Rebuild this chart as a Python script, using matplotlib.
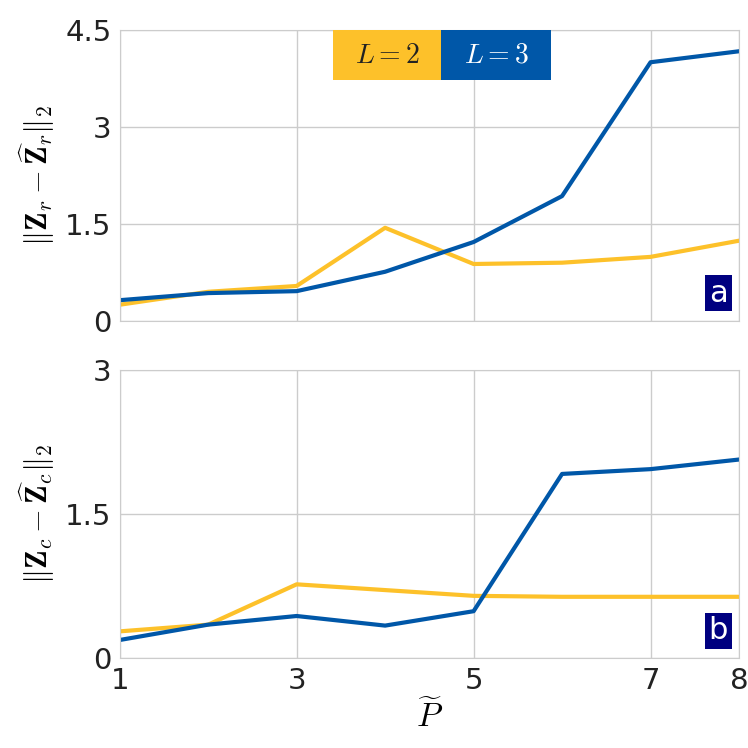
import matplotlib.pyplot as plt
from matplotlib.patches import Rectangle

plt.rcParams["mathtext.fontset"] = "cm"

p = [1, 2, 3, 4, 5, 6, 7, 8]
zr_l2 = [0.25, 0.45, 0.54, 1.44, 0.88, 0.90, 0.99, 1.24]
zr_l3 = [0.32, 0.43, 0.46, 0.76, 1.22, 1.93, 4.00, 4.17]
zc_l2 = [0.28, 0.35, 0.77, 0.71, 0.65, 0.64, 0.64, 0.64]
zc_l3 = [0.19, 0.35, 0.44, 0.34, 0.49, 1.92, 1.97, 2.07]

yellow = "#FDC12A"
blue = "#0057A8"
navy = "#000080"

fig = plt.figure(figsize=(7.48, 7.48), dpi=100)
ax1 = fig.add_axes([0.160, 0.571, 0.828, 0.389])
ax2 = fig.add_axes([0.160, 0.120, 0.828, 0.385])

for ax, y2, y3, ymax, yt, lab, letter in [
    (ax1, zr_l2, zr_l3, 4.5, [0, 1.5, 3, 4.5], r"$\|\mathbf{Z}_r-\widehat{\mathbf{Z}}_r\|_2$", "a"),
    (ax2, zc_l2, zc_l3, 3, [0, 1.5, 3], r"$\|\mathbf{Z}_c-\widehat{\mathbf{Z}}_c\|_2$", "b"),
]:
    ax.plot(p, y2, color=yellow, lw=3)
    ax.plot(p, y3, color=blue, lw=3)
    ax.set_xlim(1, 8)
    ax.set_ylim(0, ymax)
    ax.set_xticks([1, 3, 5, 7, 8])
    ax.set_yticks(yt)
    ax.set_yticklabels(["0" if v == 0 else f"{v:g}" for v in yt])
    ax.grid(True, color="#cccccc", lw=1)
    ax.tick_params(labelsize=21, length=0, colors="#222222", pad=6)
    for s in ax.spines.values():
        s.set_color("#cccccc")
    ax.set_ylabel(lab, fontsize=22, labelpad=6)
    ax.text(0.982, 0.045, letter, transform=ax.transAxes, ha="right", va="bottom",
            fontsize=22, color="white",
            bbox=dict(boxstyle="square,pad=0.12", fc=navy, ec="none"))

ax1.tick_params(labelbottom=False)
ax2.set_xlabel(r"$\widetilde{P}$", fontsize=24)

ax1.add_patch(Rectangle((0.344, 0.828), 0.175, 0.172, transform=ax1.transAxes,
                        fc=yellow, ec="none", zorder=5))
ax1.add_patch(Rectangle((0.519, 0.828), 0.177, 0.172, transform=ax1.transAxes,
                        fc=blue, ec="none", zorder=5))
ax1.text(0.4315, 0.914, r"$L=2$", transform=ax1.transAxes, ha="center", va="center",
         fontsize=20, color="#222222", zorder=6)
ax1.text(0.6075, 0.914, r"$L=3$", transform=ax1.transAxes, ha="center", va="center",
         fontsize=20, color="white", zorder=6)

fig.savefig("out.png", dpi=100)
